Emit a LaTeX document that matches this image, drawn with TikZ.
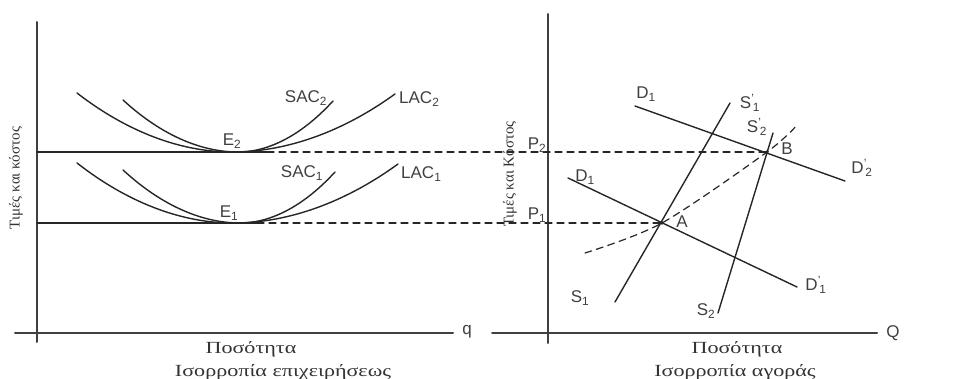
\documentclass[tikz,border=0pt]{standalone}
\usepackage{fontspec}
\setmainfont{Liberation Serif}
\newfontfamily\lblfont{Liberation Sans}
\usetikzlibrary{positioning}
\newcommand{\sub}[2]{#1\textsubscript{#2}}
\newcommand{\psub}[2]{#1\textsuperscript{\textquoteright}\kern-1.5pt\textsubscript{#2}}

\begin{document}
\begin{tikzpicture}[x=1pt, y=-1pt, line cap=round,
    axis/.style={line width=2pt, black!75},
    curve/.style={line width=1.4pt, black!85},
    guide/.style={line width=1.2pt, black!85, dash pattern=on 7pt off 5pt},
    lbl/.style={font=\lblfont\fontsize{17}{17}\selectfont, text=black!75, inner sep=1pt},
    gr/.style={font=\fontsize{17}{17}\selectfont, text=black!80, inner sep=1pt}]
    \useasboundingbox (0,0) rectangle (968,379);

    % firm equilibrium
    \coordinate (ytop1) at (37,22);
    \coordinate (ybot1) at (37,342);
    \coordinate (xl1) at (15,333);
    \coordinate (xr1) at (453,333);
    \draw[axis] (ybot1) -- (ytop1);
    \draw[axis] (xl1) -- (xr1);
    \node[lbl] (q) at (467,332) {q};

    \coordinate (E2) at (232,152);
    \coordinate (E1) at (233,223);
    \draw[curve] (77,93) parabola bend (E2) (395,94);
    \draw[curve] (123,100) parabola bend (238,152) (333,101);
    \draw[curve] (77,163) parabola bend (E1) (398,164);
    \draw[curve] (123,170) parabola bend (240,223) (335,172);

    \coordinate (h2a) at (37,152);
    \coordinate (h2b) at (267,152);
    \coordinate (h1a) at (37,223);
    \coordinate (h1b) at (257,223);
    \draw[curve] (h2a) -- (h2b);
    \draw[curve] (h1a) -- (h1b);

    \node[lbl] (sac2) at (306,98) {\sub{SAC}{2}};
    \node[lbl, right] (lac2) at (398,99) {\sub{LAC}{2}};
    \node[lbl] (e2) at (232,141) {\sub{E}{2}};
    \node[lbl] (sac1) at (302,173) {\sub{SAC}{1}};
    \node[lbl, right] (lac1) at (400,174) {\sub{LAC}{1}};
    \node[lbl] (e1) at (229,213) {\sub{E}{1}};

    \node[gr, rotate=90, font=\fontsize{15}{15}\selectfont] (ylab1) at (16,178) {Τιμές και κόστος};
    \node[gr, xscale=1.3] (qlab1) at (251,349) {Ποσότητα};
    \node[gr, xscale=1.3] (title1) at (283,372) {Ισορροπία επιχειρήσεως};

    % market equilibrium
    \coordinate (ytop2) at (548,14);
    \coordinate (ybot2) at (548,343);
    \coordinate (xl2) at (492,333);
    \coordinate (xr2) at (877,333);
    \draw[axis] (ybot2) -- (ytop2);
    \draw[axis] (xl2) -- (xr2);
    \node[lbl] (Q) at (893,333) {Q};

    \coordinate (A) at (662,223);
    \coordinate (B) at (767,152);
    \draw[guide] (h2b) -- (B);
    \draw[guide] (h1b) -- (A);

    \draw[curve] (635,106) -- (845,181);
    \draw[curve] (568,178) -- (797,287);
    \draw[curve] (615,302) -- (730,103);
    \draw[curve] (718,313) -- (773,133);

    \coordinate (c0) at (585,253);
    \coordinate (c1) at (798,124);
    \draw[guide] plot[smooth] coordinates {(c0) (A) (B) (c1)};
    \fill[black!85] (A) circle (1.8pt) (B) circle (1.8pt);

    \node[lbl] (d2) at (646,94) {\sub{D}{1}};
    \node[lbl] (s1p) at (750,103) {\psub{S}{1}};
    \node[lbl] (s2p) at (757,127) {\psub{S}{2}};
    \node[lbl] (b) at (787,149) {B};
    \node[lbl] (d2p) at (862,168) {\psub{D}{2}};
    \node[lbl] (d1) at (585,177) {\sub{D}{1}};
    \node[lbl] (a) at (682,222) {A};
    \node[lbl] (d1p) at (816,285) {\psub{D}{1}};
    \node[lbl] (s1) at (580,298) {\sub{S}{1}};
    \node[lbl] (s2) at (706,311) {\sub{S}{2}};
    \node[lbl] (p2) at (537,145) {\sub{P}{2}};
    \node[lbl] (p1) at (537,215) {\sub{P}{1}};

    \node[gr, rotate=90, font=\fontsize{15}{15}\selectfont] (ylab2) at (510,174) {Τιμές και Κόστος};
    \node[gr, xscale=1.3] (qlab2) at (737,349) {Ποσότητα};
    \node[gr, xscale=1.3] (title2) at (735,372) {Ισορροπία αγοράς};
\end{tikzpicture}
\end{document}
